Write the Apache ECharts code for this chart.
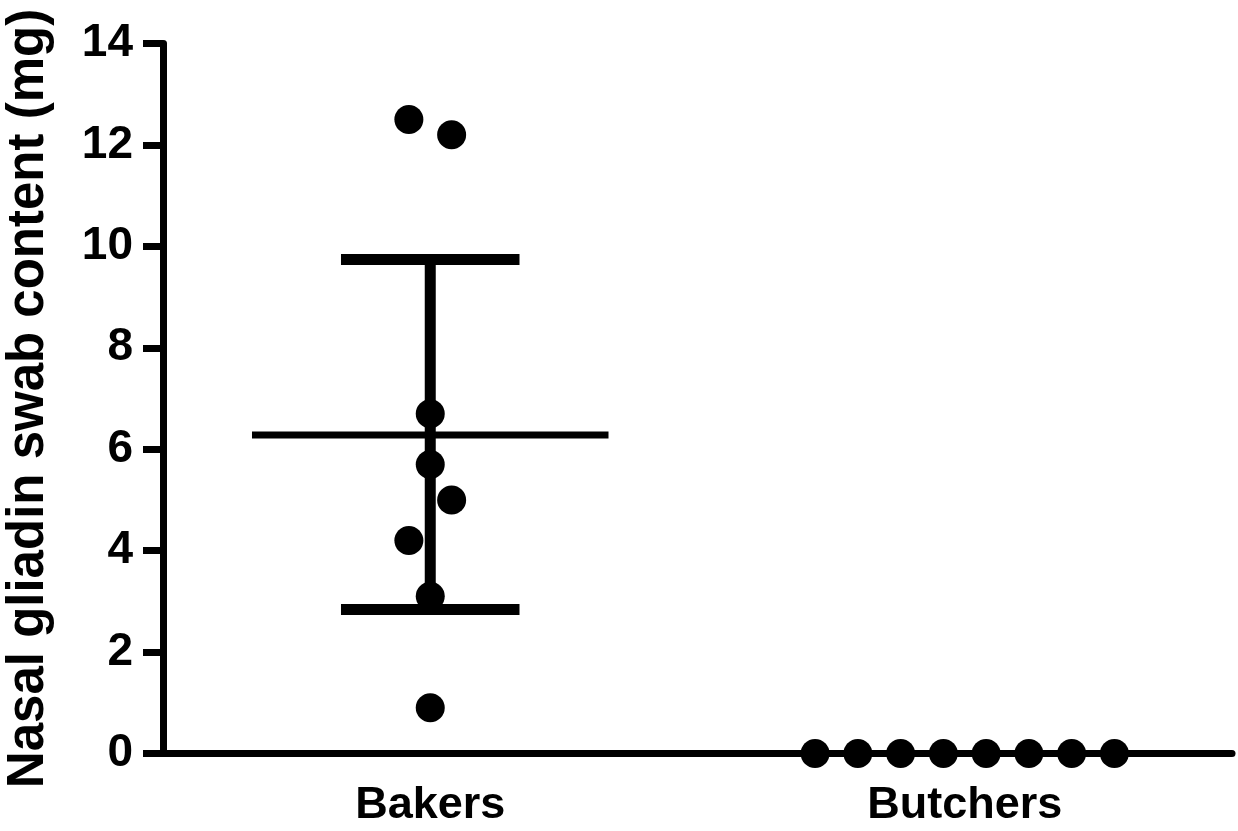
<!DOCTYPE html>
<html>
<head>
<meta charset="utf-8">
<script src="https://cdn.jsdelivr.net/npm/echarts@6/dist/echarts.min.js"></script>
<style>
  html, body { margin: 0; padding: 0; background: #fff; }
  #chart { width: 1238px; height: 831px; }
</style>
</head>
<body>
<div id="chart"></div>
<script>
// ---- data ----
const categories = ['Bakers', 'Butchers'];
const categoryPositions = [1, 3];
const bakersValues = [12.5, 12.2, 6.7, 5.7, 5.0, 4.2, 3.1, 0.9];
const bakersJitter = [-0.08, 0.08, 0, 0, 0.08, -0.08, 0, 0];
const butchersValues = [0, 0, 0, 0, 0, 0, 0, 0];
const butchersJitter = [-0.56, -0.40, -0.24, -0.08, 0.08, 0.24, 0.40, 0.56];
const bakersMean = 6.28;
const bakersCILow = 2.84;
const bakersCIHigh = 9.74;
const yTicks = [0, 2, 4, 6, 8, 10, 12, 14];
const yTitle = 'Nasal gliadin swab content (mg)';

// ---- chart ----
const font = 'Liberation Sans, Arial, Helvetica, sans-serif';
const chart = echarts.init(document.getElementById('chart'), null, { renderer: 'canvas' });

const bx = categoryPositions[0];
const bakersPts = bakersValues.map((v, i) => [bx + bakersJitter[i], v]);
const butchersPts = butchersValues.map((v, i) => [categoryPositions[1] + butchersJitter[i], v]);

const meanHalf = 0.667, capHalf = 0.334;
function seg(data, width) {
  return {
    type: 'line', data: data, symbol: 'none', silent: true, animation: false,
    lineStyle: { color: '#000', width: width, cap: 'butt', opacity: 1 }, z: 3
  };
}

chart.setOption({
  animation: false,
  backgroundColor: '#fff',
  grid: { left: 163, right: 6, top: 43.5, bottom: 77.5, containLabel: false, outerBoundsMode: 'none' },
  xAxis: {
    type: 'value', min: 0, max: 4, interval: 1,
    axisLine: { show: true, onZero: false, lineStyle: { color: '#000', width: 7 } },
    axisTick: { show: false },
    splitLine: { show: false },
    axisLabel: {
      margin: 30, color: '#000', fontSize: 45, fontWeight: 'bold', fontFamily: font,
      showMinLabel: true, showMaxLabel: true,
      formatter: function (v) {
        const i = categoryPositions.indexOf(v);
        return i >= 0 ? categories[i] : '';
      }
    }
  },
  yAxis: {
    type: 'value', min: yTicks[0], max: yTicks[yTicks.length - 1], interval: yTicks[1] - yTicks[0],
    name: yTitle, nameLocation: 'middle', nameRotate: 90, nameGap: 109,
    nameTextStyle: { color: '#000', fontSize: 51, fontWeight: 'bold', fontFamily: font },
    axisLine: { show: true, lineStyle: { color: '#000', width: 7 } },
    axisTick: { show: true, length: 20, lineStyle: { color: '#000', width: 7 } },
    splitLine: { show: false },
    axisLabel: { margin: 30, color: '#000', fontSize: 46, fontWeight: 'bold', fontFamily: font }
  },
  series: [
    seg([[bx - meanHalf, bakersMean], [bx + meanHalf, bakersMean]], 7),
    seg([[bx, bakersCILow], [bx, bakersCIHigh]], 11),
    seg([[bx - capHalf, bakersCIHigh], [bx + capHalf, bakersCIHigh]], 11),
    seg([[bx - capHalf, bakersCILow], [bx + capHalf, bakersCILow]], 11),
    {
      type: 'scatter', data: bakersPts, symbol: 'circle', symbolSize: 29,
      itemStyle: { color: '#000', opacity: 1 }, z: 4, silent: true
    },
    {
      type: 'scatter', data: butchersPts, symbol: 'circle', symbolSize: 29,
      itemStyle: { color: '#000', opacity: 1 }, z: 4, silent: true
    }
  ]
});
</script>
</body>
</html>
